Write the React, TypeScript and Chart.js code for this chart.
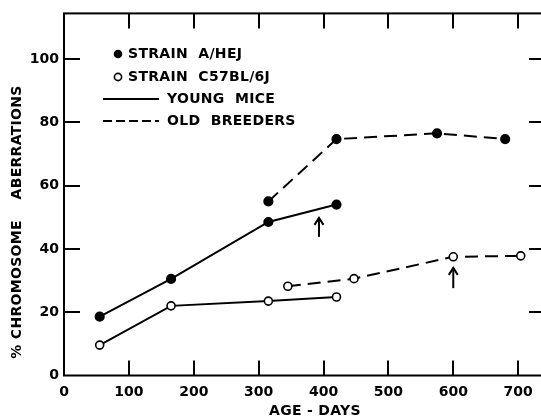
import React, { useEffect, useRef } from "react";
import { Chart, registerables } from "chart.js";

Chart.register(...registerables);

// ---- data ----
const ageAYoung = [55, 165, 315, 420];
const pctAYoung = [18.6, 30.5, 48.5, 54];
const ageAOld = [315, 420, 575, 680];
const pctAOld = [55, 74.7, 76.5, 74.7];
const ageCYoung = [55, 165, 315, 420];
const pctCYoung = [9.6, 22, 23.5, 24.8];
const ageCOld = [345, 447, 600, 704];
const pctCOld = [28.2, 30.6, 37.5, 37.8];

const xTickValues = [0, 100, 200, 300, 400, 500, 600, 700];
const yTickValues = [0, 20, 40, 60, 80, 100];

const arrowAges = [393, 600];
const arrowFrom = [43.8, 27.6];
const arrowTo = [49.8, 34];

const legendLabels = ["STRAIN  A/HEJ", "STRAIN  C57BL/6J", "YOUNG  MICE", "OLD  BREEDERS"];
const xTitle = "AGE - DAYS";
const yTitle = "% CHROMOSOME    ABERRATIONS";

const FONT = "'DejaVu Sans', 'Liberation Sans', sans-serif";

const toPts = (xs: number[], ys: number[]) => xs.map((x, i) => ({ x, y: ys[i] }));

function seg(ctx: CanvasRenderingContext2D, x0: number, y0: number, x1: number, y1: number) {
  ctx.beginPath();
  ctx.moveTo(x0, y0);
  ctx.lineTo(x1, y1);
  ctx.stroke();
}

const framePlugin = {
  id: "frameAndExtras",
  afterDraw(chart: any) {
    const ctx: CanvasRenderingContext2D = chart.ctx;
    const area = chart.chartArea;
    const L = area.left;
    const R = area.right;
    const T = area.top;
    const B = area.bottom;
    const xs = chart.scales.x;
    const ys = chart.scales.y;
    ctx.save();
    ctx.strokeStyle = "#000000";
    ctx.fillStyle = "#000000";
    ctx.lineWidth = 2;
    ctx.setLineDash([]);
    ctx.lineCap = "butt";
    // frame
    ctx.strokeRect(L, T, R - L, B - T);
    // inward ticks
    for (let i = 0; i < xTickValues.length; i++) {
      const v = xTickValues[i];
      if (v === 0) continue;
      const px = Math.round(xs.getPixelForValue(v));
      seg(ctx, px, B, px, B - 15);
      seg(ctx, px, T, px, T + 15);
    }
    for (let i = 0; i < yTickValues.length; i++) {
      const v = yTickValues[i];
      if (v === 0) continue;
      const py = Math.round(ys.getPixelForValue(v));
      seg(ctx, L, py, L + 16, py);
      seg(ctx, R, py, R - 15, py);
    }

    // arrows
    for (let i = 0; i < arrowAges.length; i++) {
      const px = xs.getPixelForValue(arrowAges[i]);
      const y0 = ys.getPixelForValue(arrowFrom[i]);
      const y1 = ys.getPixelForValue(arrowTo[i]);
      seg(ctx, px, y0, px, y1);
      ctx.beginPath();
      ctx.moveTo(px - 4.5, y1 + 7);
      ctx.lineTo(px, y1);
      ctx.lineTo(px + 4.5, y1 + 7);
      ctx.stroke();
    }

    // legend
    ctx.font = `bold 14px ${FONT}`;
    (ctx as any).letterSpacing = "0.3px";
    ctx.textBaseline = "middle";
    ctx.textAlign = "left";
    const lx = L + 54;
    const rows = [54, 77, 99, 121];
    ctx.beginPath();
    ctx.arc(lx, rows[0], 4.3, 0, Math.PI * 2);
    ctx.fill();
    ctx.fillText(legendLabels[0], lx + 10, rows[0]);
    ctx.lineWidth = 1.6;
    ctx.beginPath();
    ctx.arc(lx, rows[1], 3.6, 0, Math.PI * 2);
    ctx.stroke();
    ctx.fillText(legendLabels[1], lx + 10, rows[1]);
    ctx.lineWidth = 2;
    seg(ctx, L + 39, rows[2], L + 95, rows[2]);
    ctx.fillText(legendLabels[2], L + 103, rows[2]);
    ctx.setLineDash([9, 4]);
    seg(ctx, L + 39, rows[3], L + 95, rows[3]);
    ctx.setLineDash([]);
    ctx.fillText(legendLabels[3], L + 103, rows[3]);

    // axis titles
    ctx.textAlign = "center";
    ctx.fillText(xTitle, L + 251, 411);
    ctx.translate(17, 222);
    ctx.rotate(-Math.PI / 2);
    ctx.fillText(yTitle, 0, 0);
    (ctx as any).letterSpacing = "0px";
    ctx.restore();
  },
};

export default function App() {
  const ref = useRef<HTMLCanvasElement | null>(null);
  useEffect(() => {
    if (!ref.current) return;
    const lineBase = {
      borderColor: "#000",
      borderWidth: 2,
      pointRadius: 4,
      pointBorderColor: "#000",
      pointBorderWidth: 1.6,
      tension: 0,
      fill: false,
    };
    const chart = new Chart(ref.current, {
      type: "line",
      data: {
        datasets: [
          { ...lineBase, label: "A/HeJ young", data: toPts(ageAYoung, pctAYoung), pointBackgroundColor: "#000", pointRadius: 4.3 },
          { ...lineBase, label: "A/HeJ old", data: toPts(ageAOld, pctAOld), pointBackgroundColor: "#000", pointRadius: 4.3, borderDash: [13, 7] },
          { ...lineBase, label: "C57BL/6J young", data: toPts(ageCYoung, pctCYoung), pointBackgroundColor: "#fff" },
          { ...lineBase, label: "C57BL/6J old", data: toPts(ageCOld, pctCOld), pointBackgroundColor: "#fff", borderDash: [13, 7] },
        ],
      },
      options: {
        animation: false,
        responsive: false,
        devicePixelRatio: 1,
        layout: { padding: { top: 13, right: 5, left: 0, bottom: 0 } },
        plugins: { legend: { display: false }, tooltip: { enabled: false } },
        scales: {
          x: {
            type: "linear",
            min: 0,
            max: 740,
            afterBuildTicks: (s: any) => {
              s.ticks = xTickValues.map((v) => ({ value: v }));
            },
            afterFit: (s: any) => {
              s.height = 44.5;
            },
            grid: { display: false, drawTicks: false, tickLength: 0 },
            border: { display: false },
            ticks: {
              color: "#000",
              font: { family: FONT, size: 14, weight: "bold" },
              padding: 8,
              maxRotation: 0,
              autoSkip: false,
            },
          },
          y: {
            type: "linear",
            min: 0,
            max: 114.4,
            afterBuildTicks: (s: any) => {
              s.ticks = yTickValues.map((v) => ({ value: v }));
            },
            afterFit: (s: any) => {
              s.width = 64;
            },
            grid: { display: false, drawTicks: false, tickLength: 0 },
            border: { display: false },
            ticks: {
              color: "#000",
              font: { family: FONT, size: 14, weight: "bold" },
              padding: 5,
              autoSkip: false,
            },
          },
        },
      },
      plugins: [framePlugin],
    });
    return () => chart.destroy();
  }, []);
  return (
    <div style={{ position: "fixed", left: 0, top: 0, width: 541, height: 420, overflow: "hidden", background: "#fff" }}>
      <canvas ref={ref} width={550} height={420} style={{ display: "block" }} />
    </div>
  );
}
